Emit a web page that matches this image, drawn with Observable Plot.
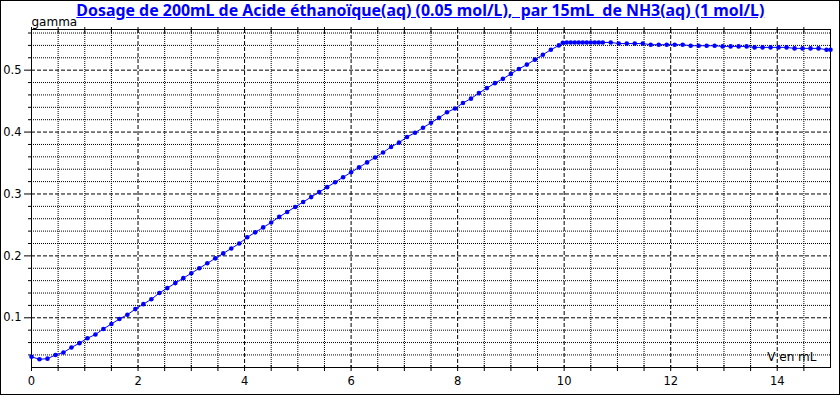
<!DOCTYPE html>
<html><head><meta charset="utf-8">
<script src="https://cdn.jsdelivr.net/npm/d3@7"></script>
<script src="https://cdn.jsdelivr.net/npm/@observablehq/plot@0.6"></script>
<style>
body{margin:0;background:#fff}
#wrap{position:relative;width:840px;height:395px;overflow:hidden;background:#fff}
#wrap svg{position:absolute;left:0;top:0}
#border{position:absolute;left:0;top:0;width:840px;height:395px;box-sizing:border-box;border:1px solid #000;pointer-events:none}
#title{position:absolute;left:0;width:840px;top:-1px;text-align:center;white-space:pre}
#title span{display:inline-block;font-family:"Noto Sans";font-weight:bold;font-size:15.5px;color:#0000ff;text-decoration:underline;transform-origin:center center}
</style></head><body>
<div id="wrap"><div id="title"><span id="tspan"></span></div><div id="border"></div></div>
<script>
const titleText = "Dosage de 200mL de Acide éthanoïque(aq) (0.05 mol/L),  par 15mL  de NH3(aq) (1 mol/L)";
const yLabel = "gamma";
const xLabel = "V en mL";

const volumes = [
  0,0.15,0.3,0.45,0.6,0.75,0.9,1.05,1.2,1.35,
  1.5,1.65,1.8,1.95,2.1,2.25,2.4,2.55,2.7,2.85,
  3,3.15,3.3,3.45,3.6,3.75,3.9,4.05,4.2,4.35,
  4.5,4.65,4.8,4.95,5.1,5.25,5.4,5.55,5.7,5.85,
  6,6.15,6.3,6.45,6.6,6.75,6.9,7.05,7.2,7.35,
  7.5,7.65,7.8,7.95,8.1,8.25,8.4,8.55,8.7,8.85,
  9,9.15,9.3,9.45,9.6,9.75,9.9,
  9.975,10.05,10.125,10.2,10.275,10.35,10.425,10.5,10.575,10.65,10.725,
  10.875,11.025,11.175,11.325,11.475,11.625,11.775,11.925,12.075,12.225,
  12.375,12.525,12.675,12.825,12.975,13.125,13.275,13.425,13.575,13.725,
  13.875,14.025,14.175,14.325,14.475,14.625,14.775,14.925,15
];
const gammaValues = [
  0.037,0.033,0.034,0.040,0.044,0.052,0.059,0.067,0.073,0.082,
  0.090,0.098,0.105,0.114,0.122,0.130,0.140,0.148,0.156,0.164,
  0.172,0.180,0.188,0.196,0.204,0.212,0.220,0.230,0.238,0.246,
  0.254,0.263,0.271,0.279,0.287,0.295,0.303,0.311,0.319,0.327,
  0.335,0.343,0.351,0.359,0.367,0.376,0.383,0.392,0.399,0.407,
  0.415,0.423,0.432,0.438,0.447,0.454,0.463,0.471,0.479,0.486,
  0.494,0.502,0.509,0.517,0.525,0.533,0.540,
  0.5442,0.5448,0.5448,0.5448,0.5448,0.5448,0.5448,0.5448,0.5448,0.5448,0.5448,
  0.5448,0.543,0.543,0.543,0.543,0.5411,0.5411,0.5411,0.5411,0.5411,
  0.5395,0.5395,0.5395,0.5395,0.5384,0.5384,0.5384,0.5384,0.5368,0.5368,
  0.5368,0.5368,0.5368,0.5352,0.5352,0.5352,0.5352,0.533,0.533
];

const xMajorTicks = [0,2,4,6,8,10,12,14];
const xMinorTicks = [0.5,1,1.5,2.5,3,3.5,4.5,5,5.5,6.5,7,7.5,8.5,9,9.5,10.5,11,11.5,12.5,13,13.5,14.5];
const yMajorTicks = [0.1,0.2,0.3,0.4,0.5];
const yMinorTicks = [0.04,0.06,0.08,0.12,0.14,0.16,0.18,0.22,0.24,0.26,0.28,0.32,0.34,0.36,0.38,0.42,0.44,0.46,0.48,0.52,0.54,0.56];
const xDomain = [0, 15];
const yDomain = [0.0197, 0.5657];

const data = volumes.map((v, i) => ({v, g: gammaValues[i]}));
const blue = "#0000ff";
const allX = [...xMajorTicks, ...xMinorTicks];

const chart = Plot.plot({
  width: 840, height: 395,
  marginLeft: 31, marginRight: 10, marginTop: 29, marginBottom: 28,
  style: {fontFamily: "DejaVu Sans", fontSize: "11px", color: "#000", background: "transparent", overflow: "visible"},
  x: {domain: xDomain, label: null},
  y: {domain: yDomain, label: null},
  marks: [
    Plot.ruleX(xMinorTicks, {stroke: "#000", strokeDasharray: "1,1"}),
    Plot.ruleX(xMajorTicks.slice(1), {stroke: "#000", strokeDasharray: "4,2"}),
    Plot.ruleY(yMinorTicks, {stroke: "#000", strokeDasharray: "1,1"}),
    Plot.ruleY(yMajorTicks, {stroke: "#000", strokeDasharray: "4,2"}),
    Plot.frame({stroke: "#000"}),
    Plot.axisY(yMajorTicks, {tickSize: 7, tickPadding: 3, tickFormat: d => d.toFixed(1), label: null, fontSize: 11.5}),
    Plot.axisY(yMinorTicks, {tickSize: 3, fill: "none", label: null}),
    Plot.axisX(allX, {tickSize: 6, dy: -2, fill: "none", label: null}),
    Plot.axisX(xMajorTicks, {tickSize: 0, tickPadding: 9, label: null, fontSize: 11.5}),
    Plot.axisX(allX, {anchor: "top", tickSize: 6, dy: 3, fill: "none", label: null}),
    Plot.line(data, {x: "v", y: "g", stroke: blue, strokeWidth: 1}),
    Plot.dot(data, {x: "v", y: "g", r: 2.3, fill: blue, stroke: "none"}),
    Plot.text([yLabel], {text: d => d, frameAnchor: "top-left", textAnchor: "start", lineAnchor: "bottom", dy: -4, fontSize: 12}),
    Plot.text([xLabel], {text: d => d, frameAnchor: "bottom-right", textAnchor: "end", lineAnchor: "bottom", dx: -14, dy: -7, fontSize: 12})
  ]
});
const wrap = document.getElementById("wrap");
wrap.prepend(chart);
const ts = document.getElementById("tspan");
ts.textContent = titleText;
const w = ts.getBoundingClientRect().width;
if (w > 0) ts.style.transform = `scaleX(${688 / w})`;
</script>
</body></html>
